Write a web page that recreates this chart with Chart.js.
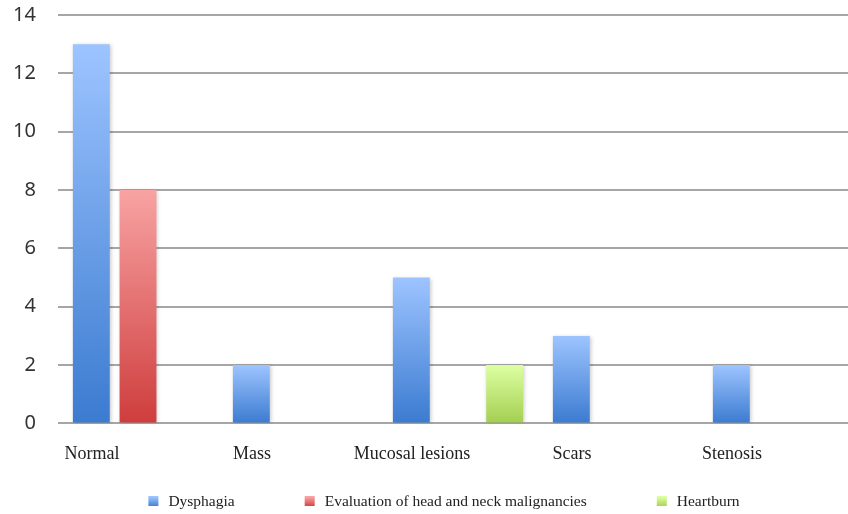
<!DOCTYPE html>
<html lang="en">
<head>
  <meta charset="UTF-8">
  <title>Findings by indication</title>
  <script src="https://cdn.jsdelivr.net/npm/chart.js"></script>
  <style>
    html, body { margin: 0; padding: 0; background: #fff; overflow: hidden; }
    #wrap { width: 892px; height: 514px; }
  </style>
</head>
<body>
  <div id="wrap"><canvas id="chart"></canvas></div>
  <script>
    const categories = ['Normal', 'Mass', 'Mucosal lesions', 'Scars', 'Stenosis'];
    const seriesNames = ['Dysphagia', 'Evaluation of head and neck malignancies', 'Heartburn'];
    const dysphagia = [13, 2, 5, 3, 2];
    const headNeck = [8, 0, 0, 0, 0];
    const heartburn = [0, 0, 2, 0, 0];
    const yTicks = [0, 2, 4, 6, 8, 10, 12, 14];

    // top / bottom colours of each series gradient
    const shades = [
      ['#9dc4ff', '#3b7bd0'],
      ['#f8a3a3', '#cf3d3d'],
      ['#ddffa2', '#a3cf50']
    ];

    function barFill(i) {
      return ctx => {
        const chart = ctx.chart;
        if (!chart.chartArea || !ctx.raw) return shades[i][1];
        const y = chart.scales.y;
        const top = y.getPixelForValue(ctx.raw);
        const bottom = y.getPixelForValue(0);
        const g = chart.ctx.createLinearGradient(0, top, 0, bottom);
        g.addColorStop(0, shades[i][0]);
        g.addColorStop(1, shades[i][1]);
        return g;
      };
    }

    // soft shadow behind the bars
    const barShadow = {
      id: 'barShadow',
      beforeDatasetsDraw(chart) {
        const c = chart.ctx;
        c.save();
        c.shadowColor = 'rgba(0,0,0,0.22)';
        c.shadowBlur = 4;
        c.shadowOffsetX = 1;
        c.shadowOffsetY = 1;
      },
      afterDatasetsDraw(chart) {
        chart.ctx.restore();
      }
    };

    // legend row at the bottom, wide spacing like the original
    const bottomLegend = {
      id: 'bottomLegend',
      afterDraw(chart) {
        const c = chart.ctx;
        const gap = 70, box = 10, textGap = 10;
        const centerX = 444, y = 502;
        c.save();
        c.font = '15.5px "Liberation Serif", serif';
        c.textBaseline = 'middle';
        const widths = chart.data.datasets.map(d => box + textGap + c.measureText(d.label).width);
        let x = centerX - (widths.reduce((a, b) => a + b, 0) + gap * (widths.length - 1)) / 2;
        chart.data.datasets.forEach((d, i) => {
          const g = c.createLinearGradient(0, y - box / 2, 0, y + box / 2);
          g.addColorStop(0, shades[i][0]);
          g.addColorStop(1, shades[i][1]);
          c.fillStyle = g;
          c.fillRect(x, y - box / 2 - 1, box, box);
          c.fillStyle = '#222';
          c.fillText(d.label, x + box + textGap, y);
          x += widths[i] + gap;
        });
        c.restore();
      }
    };

    const values = [dysphagia, headNeck, heartburn];

    new Chart(document.getElementById('chart'), {
      type: 'bar',
      data: {
        labels: categories,
        datasets: values.map((v, i) => ({
          label: seriesNames[i],
          data: v,
          backgroundColor: barFill(i),
          borderWidth: 0,
          barPercentage: 0.79,
          categoryPercentage: 0.875
        }))
      },
      plugins: [barShadow, bottomLegend],
      options: {
        responsive: true,
        maintainAspectRatio: false,
        animation: false,
        layout: { padding: { top: 15, right: 34, left: 0, bottom: 29 } },
        plugins: {
          tooltip: { enabled: false },
          legend: { display: false }
        },
        scales: {
          x: {
            grid: { display: false, drawTicks: false },
            border: { display: false },
            ticks: {
              padding: 20,
              labelOffset: -46,
              maxRotation: 0,
              autoSkip: false,
              color: '#222',
              font: { family: '"Liberation Serif", serif', size: 18 }
            }
          },
          y: {
            min: 0,
            max: 14,
            afterFit: s => { s.width = 58; },
            afterBuildTicks: s => { s.ticks = yTicks.map(v => ({ value: v })); },
            border: { display: false },
            grid: { color: '#a6a6a6', lineWidth: 2, drawTicks: true, tickLength: 22, tickColor: 'rgba(0,0,0,0)' },
            ticks: {
              padding: 0,
              color: '#333',
              font: { family: '"Noto Sans", sans-serif', size: 20 }
            }
          }
        }
      }
    });
  </script>
</body>
</html>
